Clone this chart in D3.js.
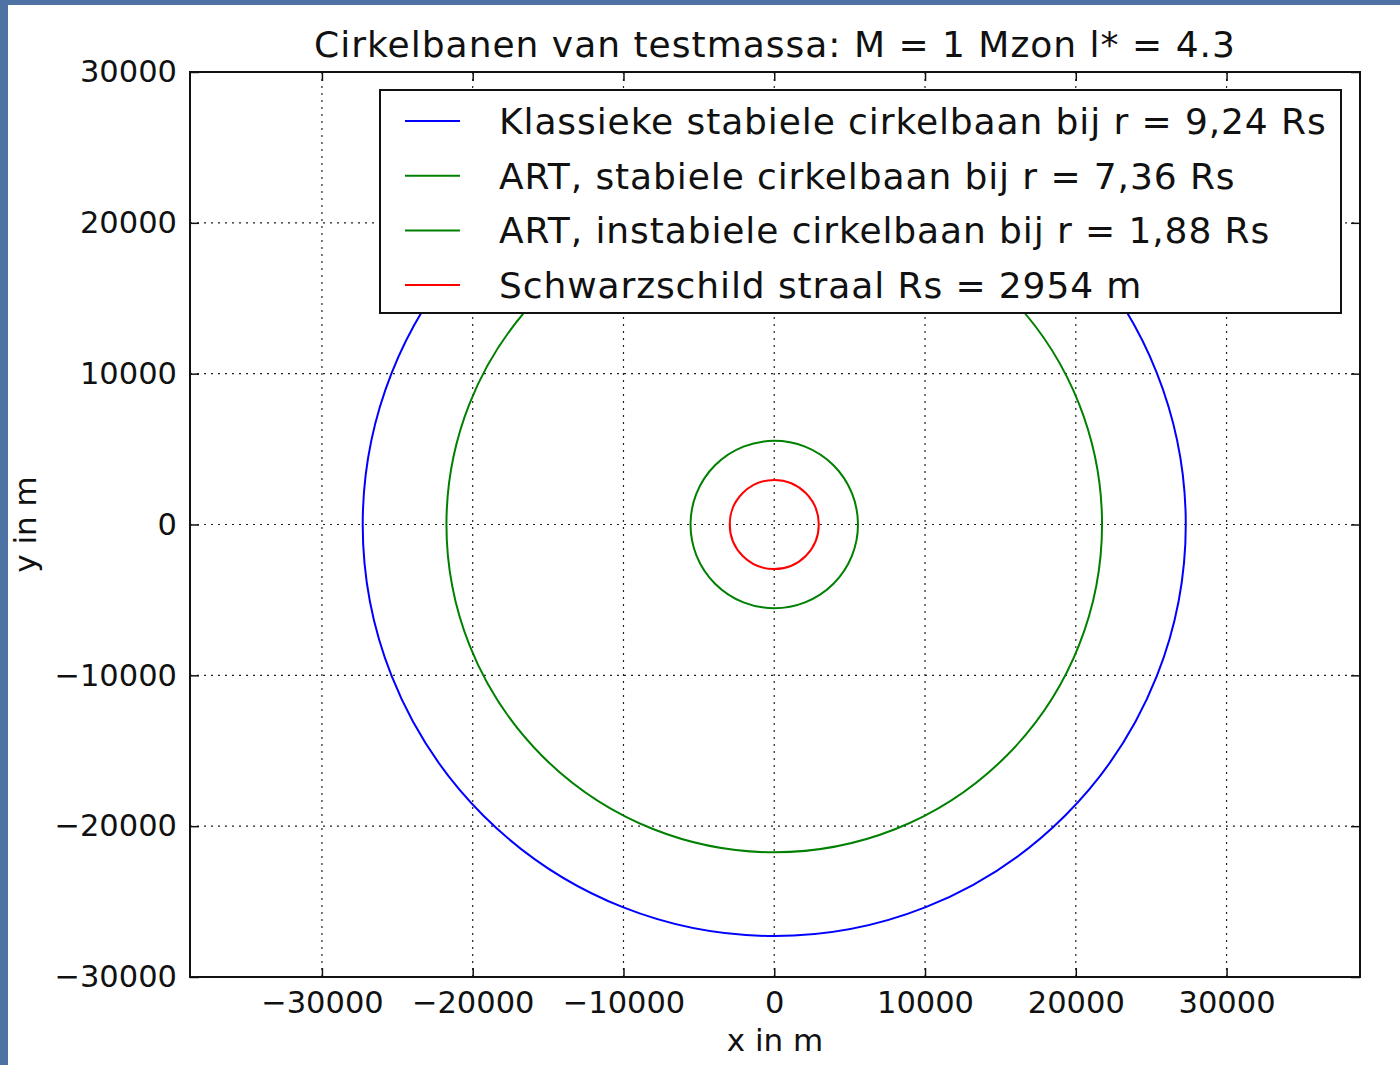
<!DOCTYPE html>
<html>
<head>
<meta charset="utf-8">
<script src="https://cdn.jsdelivr.net/npm/d3@7"></script>
<style>
  html, body { margin: 0; padding: 0; background: #4d72a3; }
  svg { display: block; }
  text { font-family: "DejaVu Sans", sans-serif; fill: #111; }
</style>
</head>
<body>
<script>
// Schwarzschild radius of one solar mass, in metres
const rsMetres = 2954;

// Orbit radii, in units of Rs
const orbitNames = [
  "Klassieke stabiele cirkelbaan bij r = 9,24 Rs",
  "ART, stabiele cirkelbaan bij r = 7,36 Rs",
  "ART, instabiele cirkelbaan bij r = 1,88 Rs",
  "Schwarzschild straal Rs = 2954 m"
];
const orbitRadiiRs = [9.24, 7.36, 1.88, 1.0];
const orbitColors = ["#0000ff", "#008000", "#008000", "#ff0000"];

// Axis ticks
const xTicks = [-30000, -20000, -10000, 0, 10000, 20000, 30000];
const yTicks = [-30000, -20000, -10000, 0, 10000, 20000, 30000];

const W = 1400, H = 1065;
const svg = d3.select("body").append("svg").attr("width", W).attr("height", H);

// blue slide background with white figure panel
svg.append("rect").attr("x", 0).attr("y", 0).attr("width", W).attr("height", H).attr("fill", "#4d72a3");
svg.append("rect").attr("x", 8).attr("y", 5).attr("width", W - 8).attr("height", H - 5).attr("fill", "#ffffff");

const plot = { left: 190, right: 1360, top: 72, bottom: 977 };

const x = d3.scaleLinear().domain([-38750, 38850]).range([plot.left, plot.right]);
const y = d3.scaleLinear().domain([-30000, 30000]).range([plot.bottom, plot.top]);

const g = svg.append("g");

// grid
const grid = g.append("g").attr("stroke", "#222").attr("stroke-width", 1.2).attr("stroke-dasharray", "2,5");
xTicks.forEach(v => {
  grid.append("line").attr("x1", x(v)).attr("x2", x(v)).attr("y1", plot.top).attr("y2", plot.bottom);
});
yTicks.forEach(v => {
  grid.append("line").attr("x1", plot.left).attr("x2", plot.right).attr("y1", y(v)).attr("y2", y(v));
});

// orbits (drawn largest first)
const orbits = orbitRadiiRs.map((r, i) => ({ r: r * rsMetres, color: orbitColors[i], name: orbitNames[i] }));
g.append("g").selectAll("circle").data(orbits).join("circle")
  .attr("cx", x(0)).attr("cy", y(0))
  .attr("r", d => x(d.r) - x(0))
  .attr("fill", "none")
  .attr("stroke", d => d.color)
  .attr("stroke-width", 2);

// axes with inward ticks on all four sides
const tickLen = 9;
const axisFont = 30.5;
const xAxisB = d3.axisBottom(x).tickValues(xTicks).tickSizeInner(-tickLen).tickSizeOuter(0).tickPadding(14)
  .tickFormat(d => d3.format("")(d).replace("-", "\u2212"));
const xAxisT = d3.axisTop(x).tickValues(xTicks).tickSizeInner(-tickLen).tickSizeOuter(0).tickFormat("");
const yAxisL = d3.axisLeft(y).tickValues(yTicks).tickSizeInner(-tickLen).tickSizeOuter(0).tickPadding(13)
  .tickFormat(d => d3.format("")(d).replace("-", "\u2212"));
const yAxisR = d3.axisRight(y).tickValues(yTicks).tickSizeInner(-tickLen).tickSizeOuter(0).tickFormat("");

function styleAxis(sel) {
  sel.select(".domain").remove();
  sel.selectAll("line").attr("stroke", "#111").attr("stroke-width", 1.5);
  sel.selectAll("text").attr("font-size", axisFont).attr("font-family", "DejaVu Sans").attr("fill", "#111");
}
g.append("g").attr("transform", `translate(0,${plot.bottom})`).call(xAxisB).call(styleAxis);
g.append("g").attr("transform", `translate(0,${plot.top})`).call(xAxisT).call(styleAxis);
g.append("g").attr("transform", `translate(${plot.left},0)`).call(yAxisL).call(styleAxis);
g.append("g").attr("transform", `translate(${plot.right},0)`).call(yAxisR).call(styleAxis);

// frame
g.append("rect").attr("x", plot.left).attr("y", plot.top)
  .attr("width", plot.right - plot.left).attr("height", plot.bottom - plot.top)
  .attr("fill", "none").attr("stroke", "#111").attr("stroke-width", 2);

// legend
const leg = { x: 380, y: 90, w: 961, h: 223 };
const lg = g.append("g");
lg.append("rect").attr("x", leg.x).attr("y", leg.y).attr("width", leg.w).attr("height", leg.h)
  .attr("fill", "#ffffff").attr("stroke", "#111").attr("stroke-width", 2);
orbits.forEach((d, i) => {
  const ry = 121 + i * 54.7;
  lg.append("line").attr("x1", 405).attr("x2", 460).attr("y1", ry).attr("y2", ry)
    .attr("stroke", d.color).attr("stroke-width", 2);
  lg.append("text").attr("x", 499).attr("y", ry).attr("dy", "0.36em")
    .attr("font-size", 36).attr("letter-spacing", "0.9px").text(d.name);
});

// title and axis labels
svg.append("text").attr("x", (plot.left + plot.right) / 2).attr("y", 57)
  .attr("text-anchor", "middle").attr("font-size", 36).attr("letter-spacing", "1px")
  .text("Cirkelbanen van testmassa: M = 1 Mzon l* = 4.3");
svg.append("text").attr("x", (plot.left + plot.right) / 2).attr("y", 1051)
  .attr("text-anchor", "middle").attr("font-size", 31).text("x in m");
svg.append("text").attr("transform", `translate(36,${(plot.top + plot.bottom) / 2}) rotate(-90)`)
  .attr("text-anchor", "middle").attr("font-size", 31).text("y in m");
</script>
</body>
</html>
